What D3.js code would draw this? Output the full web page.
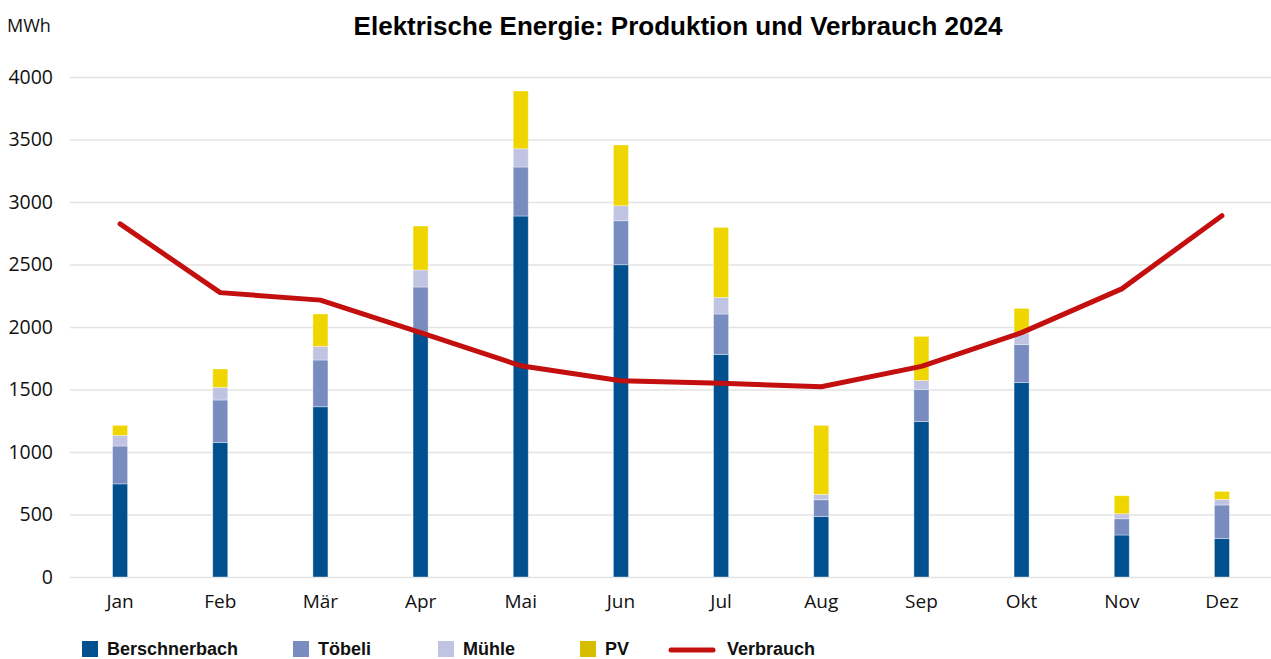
<!DOCTYPE html>
<html>
<head>
<meta charset="utf-8">
<script src="https://cdn.jsdelivr.net/npm/d3@7"></script>
<style>
  body { margin: 0; background: #fff; }
  svg { display: block; }
  .tick text { font-family: 'Open Sans', sans-serif; fill: #111; }
</style>
</head>
<body>
<svg id="chart" width="1271" height="659"></svg>
<script>
// month labels
var months = ['Jan', 'Feb', 'Mär', 'Apr', 'Mai', 'Jun', 'Jul', 'Aug', 'Sep', 'Okt', 'Nov', 'Dez']
// production per source (MWh)
var berschnerbach = [745, 1077, 1362, 1958, 2888, 2498, 1781, 483, 1243, 1555, 336, 307]
var toebeli = [303, 339, 374, 362, 392, 352, 323, 135, 258, 306, 130, 269]
var muehle = [85, 101, 109, 136, 146, 120, 133, 43, 72, 89, 40, 45]
var pv = [80, 147, 259, 352, 462, 486, 560, 552, 352, 199, 144, 64]
// consumption (MWh)
var verbrauch = [2825, 2275, 2215, 1955, 1690, 1570, 1550, 1522, 1685, 1955, 2305, 2890]
var yTicks = [0, 500, 1000, 1500, 2000, 2500, 3000, 3500, 4000]

var series = [
  {key: 'Berschnerbach', values: berschnerbach, fill: '#00508f', swatch: '#00508f'},
  {key: 'Töbeli', values: toebeli, fill: '#788cc0', swatch: '#788cc0'},
  {key: 'Mühle', values: muehle, fill: '#c0c4e2', swatch: '#c0c4e2'},
  {key: 'PV', values: pv, fill: '#f0d600', swatch: '#d6bd00'}
]

var svg = d3.select('#chart')
var margin = {top: 77, right: 0, bottom: 82, left: 70}
var width = 1271 - margin.left - margin.right
var height = 659 - margin.top - margin.bottom

// table for the stack
var table = months.map(function (m, i) {
  var o = {month: m}
  series.forEach(function (s) { o[s.key] = s.values[i] })
  return o
})
var stacked = d3.stack().keys(series.map((s) => s.key))(table)

var x = d3.scaleBand().domain(months).range([0, 1202]).paddingInner(0.85).paddingOuter(0.425)
var y = d3.scaleLinear().domain([0, 4000]).range([height, 0])

var g = svg.append('g')
  .attr('transform', 'translate(' + margin.left + ',' + margin.top + ')')

// gridlines
g.append('g')
  .call(d3.axisLeft(y).tickValues(yTicks).tickSize(-width).tickFormat(''))
  .call((a) => a.select('.domain').remove())
  .selectAll('line')
  .attr('stroke', '#e3e3e3')
  .attr('stroke-width', 1.5)

// y axis labels
g.append('g')
  .call(d3.axisLeft(y).tickValues(yTicks).tickSize(0).tickPadding(17).tickFormat(d3.format('d')))
  .call((a) => a.select('.domain').remove())
  .selectAll('text')
  .attr('font-size', 19.5)

// x axis labels
g.append('g')
  .attr('transform', 'translate(0,' + height + ')')
  .call(d3.axisBottom(x).tickSize(0).tickPadding(18))
  .call((a) => a.select('.domain').remove())
  .selectAll('text')
  .attr('font-size', 19)

// stacked bars
g.selectAll('.layer')
  .data(stacked)
  .enter().append('g')
  .attr('class', 'layer')
  .attr('fill', (d, i) => series[i].fill)
  .selectAll('rect')
  .data((d) => d)
  .enter().append('rect')
  .attr('x', (d) => x(d.data.month))
  .attr('y', (d) => y(d[1]))
  .attr('width', x.bandwidth())
  .attr('height', (d) => y(d[0]) - y(d[1]))
  .attr('stroke', 'rgba(255,255,255,0.45)')
  .attr('stroke-width', 0.8)

// consumption line
var line = d3.line()
  .x((d, i) => x(months[i]) + x.bandwidth() / 2)
  .y((d) => y(d))
g.append('path').datum(verbrauch)
  .attr('fill', 'none')
  .attr('stroke', '#c40f0f')
  .attr('stroke-width', 5)
  .attr('stroke-linejoin', 'round')
  .attr('stroke-linecap', 'round')
  .attr('d', line)

// title and unit
svg.append('text')
  .attr('x', 678).attr('y', 35)
  .attr('text-anchor', 'middle')
  .attr('font-family', "'Liberation Sans', Arial, sans-serif")
  .attr('font-weight', 'bold')
  .attr('font-size', 26)
  .attr('fill', '#000')
  .text('Elektrische Energie: Produktion und Verbrauch 2024')

svg.append('text')
  .attr('x', 7).attr('y', 32)
  .attr('font-family', "'Open Sans', sans-serif")
  .attr('font-size', 18)
  .attr('fill', '#111')
  .text('MWh')

// legend
var legendX = [82, 293, 438, 580]
var legend = svg.append('g')
  .attr('font-family', "'Liberation Sans', Arial, sans-serif")
  .attr('font-weight', 'bold')
  .attr('font-size', 18)
  .attr('fill', '#111')
series.forEach(function (s, i) {
  legend.append('rect')
    .attr('x', legendX[i]).attr('y', 641)
    .attr('width', 16).attr('height', 16)
    .attr('fill', s.swatch)
  legend.append('text')
    .attr('x', legendX[i] + 25).attr('y', 655)
    .text(s.key)
})
legend.append('line')
  .attr('x1', 671).attr('x2', 713)
  .attr('y1', 650).attr('y2', 650)
  .attr('stroke', '#c40f0f')
  .attr('stroke-width', 5)
  .attr('stroke-linecap', 'round')
legend.append('text')
  .attr('x', 727).attr('y', 655)
  .text('Verbrauch')
</script>
</body>
</html>
